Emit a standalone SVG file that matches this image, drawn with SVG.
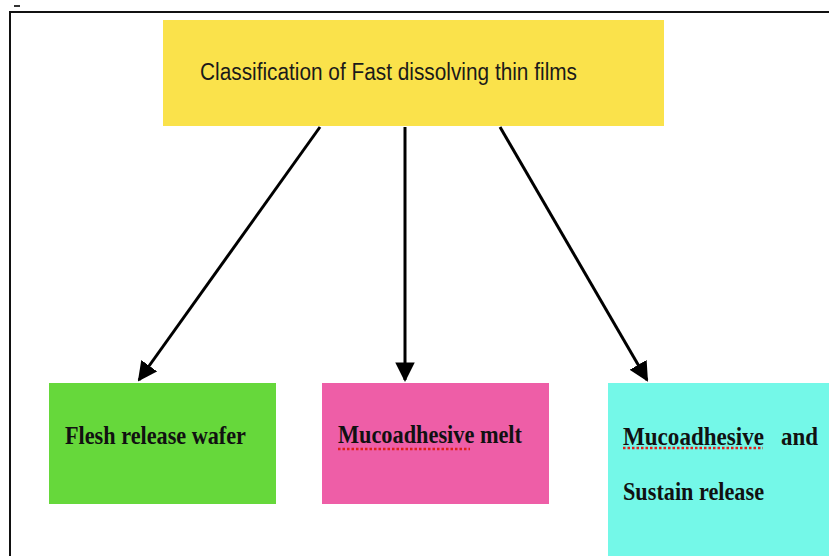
<svg xmlns="http://www.w3.org/2000/svg" width="829" height="556" viewBox="0 0 829 556">
<style>
.sans{font-family:"Liberation Sans",Arial,sans-serif;font-size:23px;fill:#1a1a1a}
.serif{font-family:"Liberation Serif","Times New Roman",serif;font-size:25px;font-weight:bold;fill:#111}
.conn{stroke:#000;stroke-width:3;fill:none;marker-end:url(#ah)}
.squig{stroke:#e0201c;stroke-width:2.5;stroke-dasharray:2.5 2;fill:none}
</style>
<defs>
<marker id="ah" viewBox="0 0 10 10" refX="9" refY="5" markerWidth="6.5" markerHeight="6.5" markerUnits="strokeWidth" orient="auto">
<path d="M0,0 L10,5 L0,10 z" fill="#000"/>
</marker>
</defs>
<rect width="829" height="556" fill="#fff"/>
<rect x="14" y="5" width="6" height="2" fill="#333"/>
<path d="M10,556 V12 H829" stroke="#111" stroke-width="2" fill="none"/>
<g id="connectors">
<line class="conn" x1="320" y1="127" x2="139" y2="380"/>
<line class="conn" x1="405" y1="127" x2="405" y2="380"/>
<line class="conn" x1="500" y1="127" x2="647" y2="380"/>
</g>
<g id="root">
<rect x="163" y="20" width="501" height="106" fill="#fae24b"/>
<text class="sans" x="200" y="80" textLength="377" lengthAdjust="spacingAndGlyphs">Classification of Fast dissolving thin films</text>
</g>
<g id="flesh">
<rect x="49" y="383" width="227" height="121" fill="#66d83b"/>
<text class="serif" x="65" y="444" textLength="181" lengthAdjust="spacingAndGlyphs">Flesh release wafer</text>
</g>
<g id="melt">
<rect x="322" y="383" width="227" height="121" fill="#ee5ea7"/>
<text class="serif" x="338" y="443" textLength="184" lengthAdjust="spacingAndGlyphs">Mucoadhesive melt</text>
<line class="squig" x1="338" y1="449" x2="470" y2="449"/>
</g>
<g id="sustain">
<rect x="608" y="383" width="221" height="173" fill="#74f8e8"/>
<text class="serif" x="623" y="445"><tspan textLength="141" lengthAdjust="spacingAndGlyphs">Mucoadhesive</tspan><tspan x="781" textLength="37" lengthAdjust="spacingAndGlyphs">and</tspan></text>
<line class="squig" x1="623" y1="448" x2="763" y2="448"/>
<text class="serif" x="623" y="500" textLength="141" lengthAdjust="spacingAndGlyphs">Sustain release</text>
</g>
</svg>
